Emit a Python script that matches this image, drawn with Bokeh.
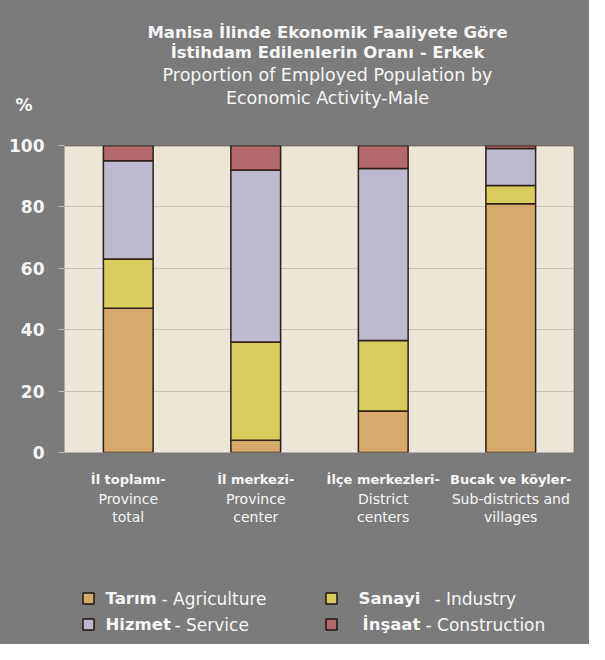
from bokeh.plotting import figure
from bokeh.layouts import column
from bokeh.models import Range1d, FactorRange, Span, ColumnDataSource, FixedTicker, LabelSet
from bokeh.core.properties import value
from bokeh.embed import file_html
from bokeh.resources import INLINE

# ---------------- data ----------------
categories = ["İl toplamı", "İl merkezi", "İlçe merkezleri", "Bucak ve köyler"]
cat_labels_tr = ["İl toplamı-", "İl merkezi-", "İlçe merkezleri-", "Bucak ve köyler-"]
cat_labels_en1 = ["Province", "Province", "District", "Sub-districts and"]
cat_labels_en2 = ["total", "center", "centers", "villages"]

agriculture = [47.0, 4.0, 13.5, 81.0]
industry = [16.0, 32.0, 23.0, 6.0]
service = [32.0, 56.0, 56.0, 12.0]
construction = [5.0, 8.0, 7.5, 1.0]

series_keys = ["agriculture", "industry", "service", "construction"]
legend_tr = ["Tarım", "Sanayi", "Hizmet", "İnşaat"]
legend_en = ["Agriculture", "Industry", "Service", "Construction"]
y_ticks = [0, 20, 40, 60, 80, 100]
unit_label = "%"

title_lines_bold = ["Manisa İlinde Ekonomik Faaliyete Göre", "İstihdam Edilenlerin Oranı - Erkek"]
title_lines_norm = ["Proportion of Employed Population by", "Economic Activity-Male"]

# ---------------- style ----------------
GRAY = "#7b7b7b"
CREAM = "#ebe6d7"
WHITE = "#f6f6f6"
OUTLINE = "#2e1f16"
FNAME = "DejaVu Sans"
FONT = value(FNAME)
bar_colors = ["#d6aa6a", "#d6cd5c", "#bdb9cf", "#b4676d"]
W = 589
LEFT, RIGHT = 64, 15          # frame borders shared by all stacked figures
XR = (LEFT, W - RIGHT)        # pixel x-range of the shared frame

def base_fig(h):
    f = figure(width=W, height=h, x_range=Range1d(*XR), y_range=Range1d(h, 0),
               output_backend="svg", toolbar_location=None,
               background_fill_color=GRAY, border_fill_color=GRAY,
               outline_line_color=None, min_border=0,
               min_border_left=LEFT, min_border_right=RIGHT)
    f.axis.visible = False
    f.grid.grid_line_color = None
    return f

# ---------------- title figure ----------------
top_h = 132
pt = base_fig(top_h)
pt.text(x=327, y=[32, 52], text=title_lines_bold, text_font=FONT, text_font_size="16.5px",
        text_font_style="bold", text_color=WHITE, text_align="center", text_baseline="middle")
pt.text(x=327, y=[74, 97], text=title_lines_norm, text_font=FONT, text_font_size="17.5px",
        text_color=WHITE, text_align="center", text_baseline="middle")
# the "%" unit sits left of the frame: show it as the single tick label of this figure's y-axis
pct_y = 104
pt.yaxis.visible = True
pt.yaxis.ticker = FixedTicker(ticks=[pct_y])
pt.yaxis.major_label_overrides = {pct_y: unit_label}
pt.yaxis.axis_line_color = None
pt.yaxis.major_tick_line_color = None
pt.yaxis.minor_tick_line_color = None
pt.yaxis.major_tick_out = 0
pt.yaxis.major_tick_in = 0
pt.yaxis.major_label_standoff = 32
pt.yaxis.major_label_text_color = WHITE
pt.yaxis.major_label_text_font = FNAME
pt.yaxis.major_label_text_font_size = "17px"
pt.yaxis.major_label_text_font_style = "bold"

# ---------------- main chart ----------------
data = dict(cat=categories, agriculture=agriculture, industry=industry,
            service=service, construction=construction)
source = ColumnDataSource(data)

p = figure(width=W, height=330, x_range=FactorRange(*categories), y_range=Range1d(0, 100),
           output_backend="svg", toolbar_location=None,
           background_fill_color=CREAM, border_fill_color=GRAY, outline_line_color=None,
           min_border_left=LEFT, min_border_right=RIGHT, min_border_top=13, min_border_bottom=10)

p.vbar_stack(series_keys, x="cat", width=0.39, source=source,
             fill_color=bar_colors, line_color=OUTLINE, line_width=1.5)

p.xaxis.visible = False
p.xgrid.grid_line_color = None
p.ygrid.grid_line_color = "#c8c3b6"
p.ygrid.grid_line_width = 1.2
p.yaxis.ticker = FixedTicker(ticks=y_ticks)
p.yaxis.axis_line_color = None
p.yaxis.major_tick_line_color = "#bdbdbd"
p.yaxis.major_tick_out = 6
p.yaxis.major_tick_in = 0
p.yaxis.minor_tick_line_color = None
p.yaxis.major_label_text_color = WHITE
p.yaxis.major_label_text_font = FNAME
p.yaxis.major_label_text_font_size = "17px"
p.yaxis.major_label_text_font_style = "bold"
p.yaxis.major_label_standoff = 14

p.add_layout(Span(location=100, dimension="width", line_color="#3a2c24", line_width=1.5))
p.add_layout(Span(location=len(categories), dimension="height", line_color="#3a2c24", line_width=1.5))

# ---------------- category labels ----------------
cat_h = 70
pc = figure(width=W, height=cat_h, x_range=p.x_range, y_range=Range1d(cat_h, 0),
            output_backend="svg", toolbar_location=None,
            background_fill_color=GRAY, border_fill_color=GRAY, outline_line_color=None,
            min_border=0, min_border_left=LEFT, min_border_right=RIGHT)
pc.axis.visible = False
pc.grid.grid_line_color = None
cat_src = ColumnDataSource(dict(cat=categories, tr=cat_labels_tr, en1=cat_labels_en1, en2=cat_labels_en2))
pc.add_layout(LabelSet(x="cat", y=17, text="tr", source=cat_src, text_font=FONT,
                       text_font_size=value("13px"), text_font_style="bold", text_color=WHITE,
                       text_align="center", text_baseline="middle"))
pc.add_layout(LabelSet(x="cat", y=36, text="en1", source=cat_src, text_font=FONT,
                       text_font_size=value("14px"), text_color=WHITE,
                       text_align="center", text_baseline="middle"))
pc.add_layout(LabelSet(x="cat", y=54, text="en2", source=cat_src, text_font=FONT,
                       text_font_size=value("14px"), text_color=WHITE,
                       text_align="center", text_baseline="middle"))

# ---------------- legend ----------------
leg_h = 112
pl = base_fig(leg_h)
leg_sq_x = [88, 331, 88, 331]
leg_y = [66, 66, 92, 92]
leg_tr_x = [105, 358, 105, 362]
leg_en_x = [161, 434, 174, 425]
pl.scatter(x=leg_sq_x, y=leg_y, marker="square", size=11, fill_color=bar_colors,
           line_color="#1e1410", line_width=1.5)
pl.text(x=leg_tr_x, y=leg_y, text=legend_tr, text_font=FONT, text_font_size="16.5px",
        text_font_style="bold", text_color=WHITE, text_align="left", text_baseline="middle")
pl.text(x=leg_en_x, y=leg_y, text=["- " + s for s in legend_en], text_font=FONT, text_font_size="17px",
        text_color=WHITE, text_align="left", text_baseline="middle")

layout = column(pt, p, pc, pl, spacing=0)
layout.styles = {"background-color": GRAY}

open("out.html", "w").write(file_html(layout, INLINE))
